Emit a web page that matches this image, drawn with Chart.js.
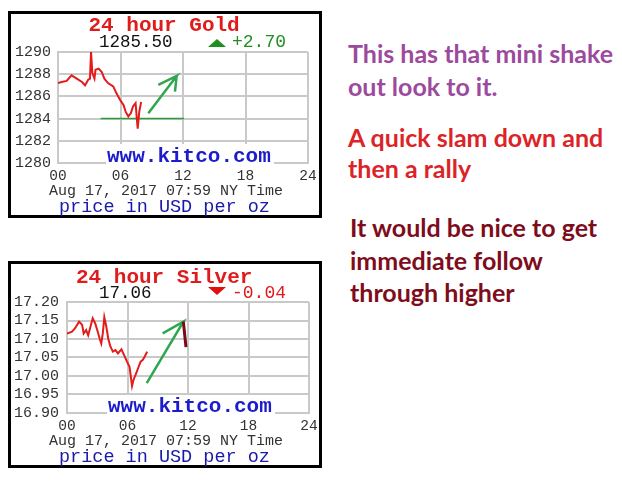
<!DOCTYPE html>
<html>
<head>
<meta charset="utf-8">
<script src="https://cdn.jsdelivr.net/npm/chart.js@4.4.1/dist/chart.umd.min.js"></script>
<style>
  body { margin: 0; width: 622px; height: 481px; background: #fff; position: relative; overflow: hidden; }
  .panel { position: absolute; left: 8px; width: 314px; height: 207px; border: 3px solid #000; box-sizing: border-box; }
  canvas { position: absolute; left: 0; }
  .t { position: absolute; white-space: nowrap; line-height: 1; }
  .mono { font-family: "Liberation Mono", "DejaVu Sans Mono", monospace; }
  .note { font-family: Lato, "Open Sans", sans-serif; font-weight: 700; font-size: 25px; }
  .wm { position: absolute; background: #fff; }
  .tri { position: absolute; width: 0; height: 0; border-left: 9.5px solid transparent; border-right: 9.5px solid transparent; }
</style>
</head>
<body>
<div class="panel" style="top:11px"></div>
<div class="panel" style="top:261px"></div>
<canvas id="gold" width="330" height="230" style="top:0"></canvas>
<canvas id="silver" width="330" height="230" style="top:250px"></canvas>
<div class="wm" style="left:106px;top:144px;width:168px;height:22px"></div>
<div class="wm" style="left:107px;top:395px;width:168px;height:21px"></div>
<div class="tri" style="left:208px;top:39px;border-bottom:8px solid #1f8f1f"></div>
<div class="tri" style="left:208px;top:287px;border-top:8px solid #e01010"></div>
<script>
// hours since midnight NY time
const hourTicks = [0, 6, 12, 18, 24];
const goldTicks = [1280, 1282, 1284, 1286, 1288, 1290];
const silverTicks = [16.90, 16.95, 17.00, 17.05, 17.10, 17.15, 17.20];

const goldHours  = [0, 0.35, 0.83, 1.3, 1.8, 2.3, 2.6, 2.9, 3.07, 3.17, 3.3, 3.5, 3.6, 3.9, 4.2, 4.45, 4.8, 5.3, 5.6, 5.95, 6.3, 6.5, 6.75, 7.0, 7.2, 7.45, 7.55, 7.65, 7.8, 7.98];
const goldPrices = [1287.2, 1287.3, 1287.4, 1287.9, 1287.6, 1287.3, 1287.0, 1287.5, 1287.6, 1290.0, 1288.1, 1287.6, 1288.4, 1288.5, 1288.2, 1287.6, 1287.2, 1286.9, 1286.3, 1285.7, 1285.2, 1284.6, 1284.2, 1284.5, 1285.1, 1285.4, 1284.2, 1283.1, 1284.6, 1285.5];

const silverHours  = [0, 0.5, 0.8, 1.2, 1.5, 1.65, 1.9, 2.1, 2.2, 2.55, 2.8, 3.1, 3.25, 3.4, 3.55, 3.7, 3.9, 4.1, 4.3, 4.55, 4.8, 5.05, 5.4, 5.65, 5.95, 6.2, 6.45, 6.6, 6.8, 7.05, 7.3, 7.5, 7.7, 7.95];
const silverPrices = [17.115, 17.12, 17.129, 17.147, 17.138, 17.115, 17.124, 17.11, 17.12, 17.156, 17.142, 17.115, 17.10, 17.088, 17.115, 17.159, 17.133, 17.10, 17.08, 17.066, 17.07, 17.061, 17.072, 17.057, 17.039, 17.025, 16.973, 16.99, 17.003, 17.021, 17.039, 17.043, 17.052, 17.066];

// hand drawn marks, in chart units (null breaks the stroke)
const goldLevelHours  = [4.1, 12.1];
const goldLevelPrices = [1284, 1284];
const goldArrowHours  = [8.67, 11.39, 9.63, 11.39, 11.39, 11.23];
const goldArrowPrices = [1284.48, 1287.84, 1287.03, null, 1287.84, 1286.42];
const silverArrowHours  = [7.91, 11.54, 9.49];
const silverArrowPrices = [16.981, 17.147, 17.115];
const silverTickHours  = [11.54, 11.8];
const silverTickPrices = [17.147, 17.078];

const pts = (xs, ys) => xs.map((x, i) => ({ x: x, y: ys[i] }));

function line(data, color, width) {
  return { data: data, borderColor: color, borderWidth: width, pointRadius: 0, tension: 0, fill: false, spanGaps: false };
}

function kitcoChart(id, datasets, yTicks, yFmt, yWidth, padRight, yPad) {
  const grid = { color: '#c9c9c9', lineWidth: 2, drawTicks: false };
  const border = { color: '#c9c9c9', width: 2 };
  return new Chart(document.getElementById(id), {
    type: 'line',
    data: { datasets: datasets },
    options: {
      responsive: false,
      animation: false,
      layout: { padding: { top: 52, right: padRight, left: 0, bottom: 0 } },
      plugins: { legend: { display: false }, tooltip: { enabled: false } },
      scales: {
        x: {
          type: 'linear', min: 0, max: 24,
          afterBuildTicks: s => { s.ticks = hourTicks.map(v => ({ value: v })); },
          ticks: { callback: v => String(v).padStart(2, '0'), color: '#333', font: { family: 'Liberation Mono', size: 14.5 }, padding: 4, maxRotation: 0, autoSkip: false },
          grid: grid, border: border,
          afterFit: s => { s.height = 67; }
        },
        y: {
          min: yTicks[0], max: yTicks[yTicks.length - 1],
          afterBuildTicks: s => { s.ticks = yTicks.map(v => ({ value: v })); },
          ticks: { callback: yFmt, color: '#333', font: { family: 'Liberation Mono', size: 15 }, padding: yPad, autoSkip: false },
          grid: grid, border: border,
          afterFit: s => { s.width = yWidth; }
        }
      }
    }
  });
}

kitcoChart('gold', [
  line(pts(goldArrowHours, goldArrowPrices), '#2fa64f', 2.5),
  line(pts(goldHours, goldPrices), '#e41b1b', 2),
  line(pts(goldLevelHours, goldLevelPrices), '#2f9a3a', 1.5)
], goldTicks, v => String(v), 58, 22, 7);

kitcoChart('silver', [
  line(pts(silverTickHours, silverTickPrices), '#7a0a16', 3),
  line(pts(silverArrowHours, silverArrowPrices), '#2fa64f', 2.5),
  line(pts(silverHours, silverPrices), '#e41b1b', 2)
], silverTicks, v => v.toFixed(2), 67, 21, 8);

// text placed by its baseline
function put(text, x, base, cls, css, align) {
  const d = document.createElement('div');
  d.className = 't ' + cls;
  d.style.cssText = css;
  const m = document.createElement('span');
  m.style.cssText = 'display:inline-block;width:0;height:0';
  d.appendChild(m);
  d.appendChild(document.createTextNode(text));
  document.body.appendChild(d);
  d.style.top = (base - m.offsetTop) + 'px';
  d.style.left = (align === 'center' ? x - d.offsetWidth / 2 : x) + 'px';
}

const red = 'color:#e01b1b', blue = 'color:#1c1ccc', navy = 'color:#1a1aa8';

put('24 hour Gold', 164, 31, 'mono', 'font-size:21px;font-weight:700;' + red, 'center');
put('1285.50', 99, 47, 'mono', 'font-size:17.5px;color:#111');
put('+2.70', 232, 47, 'mono', 'font-size:18px;color:#1f8f1f');
put('www.kitco.com', 189, 162, 'mono', 'font-size:21px;font-weight:700;' + blue, 'center');
put('Aug 17, 2017 07:59 NY Time', 166, 195, 'mono', 'font-size:15px;color:#333', 'center');
put('price in USD per oz', 164.5, 212, 'mono', 'font-size:18.5px;' + navy, 'center');

put('24 hour Silver', 164, 283, 'mono', 'font-size:21px;font-weight:700;' + red, 'center');
put('17.06', 99, 298, 'mono', 'font-size:17.5px;color:#111');
put('-0.04', 232, 298, 'mono', 'font-size:18px;' + red);
put('www.kitco.com', 190, 412, 'mono', 'font-size:21px;font-weight:700;' + blue, 'center');
put('Aug 17, 2017 07:59 NY Time', 166, 445, 'mono', 'font-size:15px;color:#333', 'center');
put('price in USD per oz', 164.5, 462, 'mono', 'font-size:18.5px;' + navy, 'center');

put('This has that mini shake', 348, 63, 'note', 'color:#9c4a9e');
put('out look to it.', 348, 95.5, 'note', 'color:#9c4a9e');
put('A quick slam down and', 348, 146.5, 'note', 'color:#dc2428');
put('then a rally', 348, 178, 'note', 'color:#dc2428');
put('It would be nice to get', 350, 236.5, 'note', 'color:#7e0d1c');
put('immediate follow', 350, 269.5, 'note', 'color:#7e0d1c');
put('through higher', 350, 302, 'note', 'color:#7e0d1c');
</script>
</body>
</html>
